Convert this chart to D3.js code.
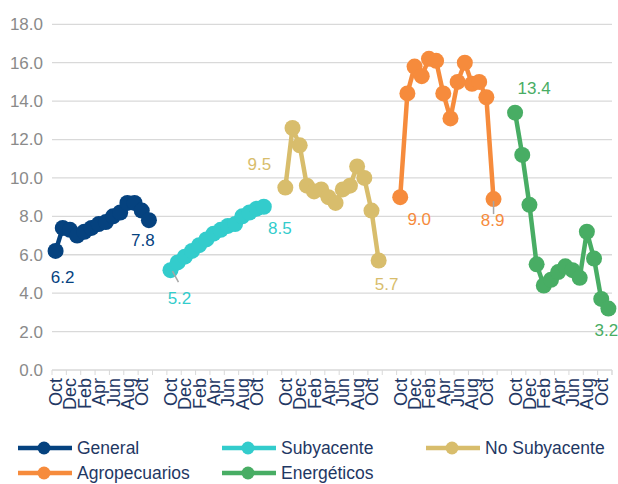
<!DOCTYPE html>
<html>
<head>
<meta charset="utf-8">
<script src="https://cdn.jsdelivr.net/npm/d3@7"></script>
<style>
  body { margin: 0; background: #ffffff; }
  text { font-family: "Liberation Sans", Arial, sans-serif; }
</style>
</head>
<body>
<svg id="chart" width="618" height="484"></svg>
<script>
// Inflación anual por componente, octubre a noviembre del año siguiente
const months = ["Oct","Nov","Dec","Jan","Feb","Mar","Apr","May","Jun","Jul","Aug","Sep","Oct","Nov"];
const seriesNames = ["General","Subyacente","No Subyacente","Agropecuarios","Energéticos"];
const seriesColors = ["#05427f","#33cccc","#d8bd6c","#f68b3c","#48ad64"];

const general       = [6.2, 7.4, 7.3, 7.0, 7.2, 7.4, 7.6, 7.7, 8.0, 8.2, 8.7, 8.7, 8.3, 7.8];
const subyacente    = [5.2, 5.6, 5.9, 6.2, 6.5, 6.8, 7.1, 7.3, 7.5, 7.6, 8.0, 8.2, 8.4, 8.5];
const noSubyacente  = [9.5, 12.6, 11.7, 9.6, 9.3, 9.4, 9.0, 8.7, 9.4, 9.6, 10.6, 10.0, 8.3, 5.7];
const agropecuarios = [9.0, 14.4, 15.8, 15.3, 16.2, 16.1, 14.4, 13.1, 15.0, 16.0, 14.9, 15.0, 14.2, 8.9];
const energeticos   = [13.4, 11.2, 8.6, 5.5, 4.4, 4.7, 5.1, 5.4, 5.2, 4.8, 7.2, 5.8, 3.7, 3.2];

const yTicks = [0, 2, 4, 6, 8, 10, 12, 14, 16, 18];
const gapSize = 2; // empty categories between panels

const allSeries = [general, subyacente, noSubyacente, agropecuarios, energeticos];

// Build the flat category list: 14 months per panel, blanks in between
const categories = [];
allSeries.forEach((s, g) => {
  months.forEach((m, i) => categories.push({ key: g + "-" + i, label: m }));
  if (g < allSeries.length - 1) {
    for (let k = 0; k < gapSize; k++) categories.push({ key: g + "-gap" + k, label: "" });
  }
});

const svg = d3.select("#chart");
const plot = { left: 52, right: 612, top: 24.3, bottom: 370 };

const x = d3.scaleBand()
  .domain(categories.map(d => d.key))
  .range([plot.left, plot.right])
  .paddingInner(0).paddingOuter(0);
const cx = key => x(key) + x.bandwidth() / 2;

const y = d3.scaleLinear().domain([0, 18]).range([plot.bottom, plot.top]);

// Horizontal gridlines and y labels
svg.append("g").selectAll("line").data(yTicks).join("line")
  .attr("x1", plot.left).attr("x2", plot.right)
  .attr("y1", d => y(d)).attr("y2", d => y(d))
  .attr("stroke", "#d9d9d9").attr("stroke-width", 1.3);

svg.append("g").selectAll("text").data(yTicks).join("text")
  .attr("x", 43).attr("y", d => y(d))
  .attr("dy", "0.35em")
  .attr("text-anchor", "end")
  .attr("font-size", 17)
  .attr("fill", "#8a8a8a")
  .text(d => d.toFixed(1));

// Category axis: tick marks every second category
const tickIdx = d3.range(0, categories.length + 1, 2);
const bw = x.bandwidth();
svg.append("g").selectAll("line").data(tickIdx).join("line")
  .attr("x1", i => plot.left + i * bw).attr("x2", i => plot.left + i * bw)
  .attr("y1", plot.bottom).attr("y2", plot.bottom + 5)
  .attr("stroke", "#d9d9d9").attr("stroke-width", 1);
svg.append("line")
  .attr("x1", plot.right).attr("x2", plot.right)
  .attr("y1", plot.bottom).attr("y2", plot.bottom + 5)
  .attr("stroke", "#d9d9d9");

const labelled = categories.filter((d, i) => i % 2 === 0 && d.label);
svg.append("g").selectAll("text").data(labelled).join("text")
  .attr("transform", d => `translate(${cx(d.key)},${plot.bottom + 8}) rotate(-90)`)
  .attr("text-anchor", "end")
  .attr("dy", "0.36em")
  .attr("font-size", 18)
  .attr("fill", "#1f3864")
  .text(d => d.label);

// Series lines and markers
const line = d3.line().x(d => d.x).y(d => d.y);
const pointsOf = (s, g) => s.map((v, i) => ({ x: cx(g + "-" + i), y: y(v), v }));

allSeries.forEach((s, g) => {
  const pts = pointsOf(s, g);
  const grp = svg.append("g");
  grp.append("path").datum(pts)
    .attr("d", line)
    .attr("fill", "none")
    .attr("stroke", seriesColors[g])
    .attr("stroke-width", 4.5)
    .attr("stroke-linejoin", "round");
  grp.selectAll("circle").data(pts).join("circle")
    .attr("cx", d => d.x).attr("cy", d => d.y).attr("r", 8)
    .attr("fill", seriesColors[g]);
});

// Data labels on first and last point of each panel
const labelOffsets = [
  [[7, 26], [-6, 20]],
  [[9, 28], [16, 21]],
  [[-26, -23], [8, 24]],
  [[19, 22], [-1, 21]],
  [[19, -25], [-2, 22]]
];
const leaders = [
  { g: 1, i: 0, from: [2, 1], to: [8, 12] },
  { g: 3, i: 13, from: [0, 2], to: [0, 15] }
];

leaders.forEach(l => {
  const p = pointsOf(allSeries[l.g], l.g)[l.i];
  svg.append("line")
    .attr("x1", p.x + l.from[0]).attr("y1", p.y + l.from[1])
    .attr("x2", p.x + l.to[0]).attr("y2", p.y + l.to[1])
    .attr("stroke", "#a6a6a6").attr("stroke-width", 1.5);
});

allSeries.forEach((s, g) => {
  const pts = pointsOf(s, g);
  [0, pts.length - 1].forEach((idx, k) => {
    const p = pts[idx];
    const off = labelOffsets[g][k];
    svg.append("text")
      .attr("x", p.x + off[0]).attr("y", p.y + off[1])
      .attr("dy", "0.35em")
      .attr("text-anchor", "middle")
      .attr("font-size", 17)
      .attr("fill", seriesColors[g])
      .text(p.v.toFixed(1));
  });
});

// Legend
const legendPos = [[18, 448], [222, 448], [426, 448], [18, 473], [222, 473]];
seriesNames.forEach((name, g) => {
  const [lx, ly] = legendPos[g];
  const item = svg.append("g");
  item.append("line")
    .attr("x1", lx).attr("x2", lx + 54).attr("y1", ly).attr("y2", ly)
    .attr("stroke", seriesColors[g]).attr("stroke-width", 4.5);
  item.append("circle")
    .attr("cx", lx + 26).attr("cy", ly).attr("r", 6.5)
    .attr("fill", seriesColors[g]);
  item.append("text")
    .attr("x", lx + 59).attr("y", ly)
    .attr("dy", "0.35em")
    .attr("font-size", 17.5)
    .attr("fill", "#1f3864")
    .text(name);
});
</script>
</body>
</html>
